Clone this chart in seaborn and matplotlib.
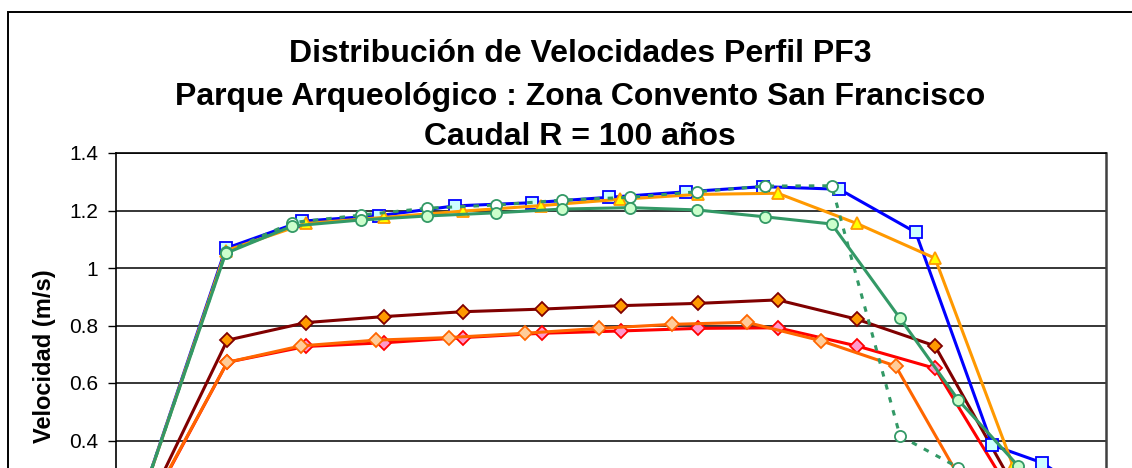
import matplotlib
matplotlib.use("Agg")
import matplotlib.pyplot as plt
import matplotlib.patches as mpatches
import seaborn as sns
import pandas as pd

# ---- data (distance along profile, velocity m/s) ----
x_blue = [0.64, 10.97, 18.63, 26.30, 33.90, 41.57, 49.33, 57.00, 64.67, 72.33, 79.97, 87.63, 92.57, 97.60]
v_blue = [0.0, 1.068, 1.163, 1.182, 1.216, 1.227, 1.246, 1.265, 1.283, 1.274, 1.124, 0.384, 0.323, 0.21]

x_tri = [0.64, 10.97, 18.97, 26.80, 34.73, 42.50, 50.40, 58.23, 66.17, 74.07, 81.90, 89.73, 95.50]
v_tri = [0.0, 1.060, 1.155, 1.176, 1.198, 1.217, 1.239, 1.256, 1.260, 1.155, 1.034, 0.310, 0.0]

x_circ = [0.60, 10.97, 17.63, 24.47, 31.13, 37.97, 44.63, 51.40, 58.07, 64.90, 71.57, 78.40, 84.23, 90.23]
v_green = [0.0, 1.051, 1.146, 1.167, 1.181, 1.192, 1.205, 1.210, 1.202, 1.178, 1.153, 0.825, 0.541, 0.311]
v_green_dash = [0.0, 1.055, 1.158, 1.184, 1.208, 1.219, 1.236, 1.246, 1.265, 1.285, 1.286, 0.416, 0.306, None]

x_dia = [0.72, 11.13, 18.97, 26.80, 34.73, 42.57, 50.47, 58.23, 66.17, 74.07, 81.90, 89.80]
v_maroon = [0.0, 0.749, 0.810, 0.831, 0.848, 0.857, 0.869, 0.877, 0.889, 0.822, 0.729, 0.24]
v_red = [0.0, 0.672, 0.727, 0.740, 0.758, 0.773, 0.781, 0.790, 0.792, 0.729, 0.651, 0.20]

x_peach = [0.64, 11.13, 18.47, 25.97, 33.30, 40.90, 48.30, 55.63, 63.07, 70.50, 77.97, 85.40]
v_peach = [0.0, 0.672, 0.729, 0.749, 0.758, 0.773, 0.790, 0.804, 0.811, 0.747, 0.659, 0.207]

y_ticks = [0, 0.2, 0.4, 0.6, 0.8, 1.0, 1.2, 1.4]
# labels for 0 and 0.2 fall below the visible (cropped) area
y_tick_labels = ["", "", "0.4", "0.6", "0.8", "1", "1.2", "1.4"]
title_lines = ["Distribución de Velocidades Perfil PF3",
               "Parque Arqueológico : Zona Convento San Francisco",
               "Caudal R = 100 años"]
y_label = "Velocidad (m/s)"

sns.set_style("white")
plt.rcParams['font.family'] = ['Liberation Sans', 'DejaVu Sans']
plt.rcParams['text.color'] = 'black'
plt.rcParams['ytick.color'] = 'black'
plt.rcParams['axes.labelcolor'] = 'black'

W, H = 1132, 468
fig = plt.figure(figsize=(W / 100, H / 100), dpi=100)
ax_left, ax_right, ax_top, ax_bottom = 116, 1106, 153, 555.5
ax = fig.add_axes([ax_left / W, 1 - ax_bottom / H, (ax_right - ax_left) / W, (ax_bottom - ax_top) / H])

# outer chart frame
fig.patches.append(mpatches.Rectangle((8 / W, -0.5), 1.2, 1 - 12 / H + 0.5, transform=fig.transFigure,
                                      fill=False, edgecolor='black', linewidth=1.4))

lw = 2.2
ms = 8

def draw(x, y, color, marker, face, edge, ls='-', msize=ms, mew=1.3, z=2):
    df = pd.DataFrame({"x": x, "y": y}).dropna()
    sns.lineplot(data=df, x="x", y="y", ax=ax, color=color, linewidth=lw, linestyle=ls,
                 marker=marker, markersize=msize, markerfacecolor=face, markeredgecolor=edge,
                 markeredgewidth=mew, estimator=None, sort=False, zorder=z)

draw(x_dia, v_maroon, '#800000', 'D', '#FF9900', '#800000', msize=7, z=3)
draw(x_dia, v_red, '#FF0000', 'D', '#FF99CC', '#FF0000', msize=7, z=3)
draw(x_peach, v_peach, '#FF6600', 'D', '#FFCC99', '#FF6600', msize=7, z=3)
draw(x_blue, v_blue, '#0000FF', 's', '#CCFFFF', '#0000FF', z=4)
draw(x_tri, v_tri, '#FF9900', '^', '#FFFF00', '#FF9900', msize=9, z=4)
draw(x_circ, v_green_dash, '#339966', 'o', '#FFFFFF', '#339966', ls=(0, (1.8, 2.6)), z=5)
draw(x_circ, v_green, '#339966', 'o', '#CCFFCC', '#339966', z=6)

ax.set_xlim(0, 99)
ax.set_ylim(0, 1.4)
ax.set_yticks(y_ticks)
ax.set_yticklabels(y_tick_labels, fontsize=15)
ax.set_xticks([])
ax.set_xlabel("")
ax.set_ylabel("")
ax.tick_params(axis='y', direction='out', length=6, width=1.0, color='black', pad=7, left=True)
ax.yaxis.grid(True, color='black', linewidth=1.1)
ax.set_axisbelow(True)
for s in ax.spines.values():
    s.set_visible(True)
    s.set_color('black')
    s.set_linewidth(1.2)
ax.spines['right'].set_color('#404040')
ax.spines['right'].set_linewidth(1.8)

fig.text(45 / W, 1 - 356 / H, y_label, rotation=90, ha='center', va='center',
         fontsize=17, fontweight='bold')

for txt, yc in zip(title_lines, [54, 97, 137]):
    fig.text(580 / W, 1 - yc / H, txt, ha='center', va='center', fontsize=23, fontweight='bold')

fig.savefig("out.png", dpi=100)
